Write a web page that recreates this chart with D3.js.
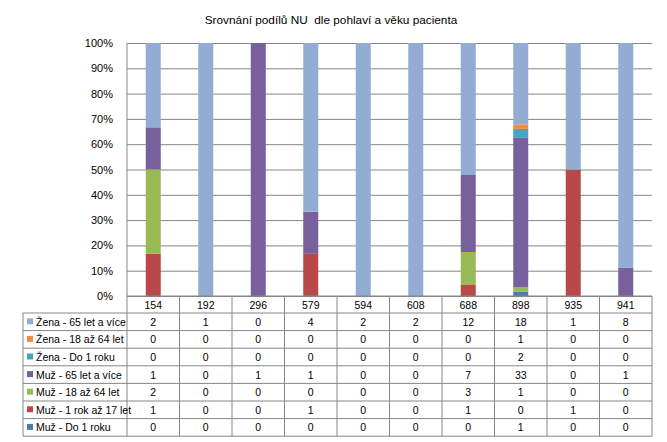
<!DOCTYPE html>
<html>
<head>
<meta charset="utf-8">
<script src="https://cdn.jsdelivr.net/npm/d3@7/dist/d3.min.js"></script>
<style>
  body { margin: 0; background: #fff; }
  svg { display: block; font-family: "Liberation Sans", Arial, sans-serif; }
</style>
</head>
<body>
<svg id="chart" width="667" height="442"></svg>
<script>
// data
const categories = ["154", "192", "296", "579", "594", "608", "688", "898", "935", "941"];
const seriesNames = [
  "Žena - 65 let a více",
  "Žena - 18 až 64 let",
  "Žena - Do 1 roku",
  "Muž - 65 let a více",
  "Muž - 18 až 64 let",
  "Muž - 1 rok až 17 let",
  "Muž - Do 1 roku"
];
const zena65 = [2, 1, 0, 4, 2, 2, 12, 18, 1, 8];
const zena18 = [0, 0, 0, 0, 0, 0, 0, 1, 0, 0];
const zenaDo1 = [0, 0, 0, 0, 0, 0, 0, 2, 0, 0];
const muz65 = [1, 0, 1, 1, 0, 0, 7, 33, 0, 1];
const muz18 = [2, 0, 0, 0, 0, 0, 3, 1, 0, 0];
const muz1 = [1, 0, 0, 1, 0, 0, 1, 0, 1, 0];
const muzDo1 = [0, 0, 0, 0, 0, 0, 0, 1, 0, 0];
const seriesValues = [zena65, zena18, zenaDo1, muz65, muz18, muz1, muzDo1];
const colors = ["#93acd4", "#f08d3f", "#4aa3bd", "#77609c", "#98b954", "#b8484a", "#4a7bb5"];
const yTicks = [0, 0.1, 0.2, 0.3, 0.4, 0.5, 0.6, 0.7, 0.8, 0.9, 1];

const svg = d3.select("#chart");
const margin = { top: 43, left: 127, right: 15, plotBottom: 296 };
const width = 667;
const legendLeft = 23;
const rowH = 17.6;
const headerH = 17;
const lineColor = "#868686";

// title
svg.append("text")
  .attr("x", 331).attr("y", 24)
  .attr("text-anchor", "middle")
  .attr("font-size", "11.8px")
  .style("white-space", "pre")
  .text("Srovnání podílů NU  dle pohlaví a věku pacienta");

const x = d3.scaleBand()
  .domain(categories)
  .range([margin.left, width - margin.right]);

const y = d3.scaleLinear()
  .domain([0, 1])
  .range([margin.plotBottom, margin.top]);

// grid + y labels
const yAxis = (g) => g
  .attr("transform", `translate(${margin.left},0)`)
  .call(d3.axisLeft(y).tickValues(yTicks).tickFormat(d3.format(".0%")).tickSize(-(width - margin.right - margin.left)).tickPadding(14))
  .call((g) => g.select(".domain").remove())
  .call((g) => g.selectAll("line").attr("stroke", lineColor))
  .call((g) => g.selectAll("text").attr("font-size", "11px").attr("fill", "#000").attr("font-family", "Liberation Sans, Arial, sans-serif"));
svg.append("g").call(yAxis);

// stack: bottom is last row of the table
const table = categories.map((c, i) => {
  const o = { cat: c };
  seriesNames.forEach((s, j) => { o[s] = seriesValues[j][i]; });
  return o;
});
const stackKeys = seriesNames.slice().reverse();
const stacked = d3.stack().keys(stackKeys).offset(d3.stackOffsetExpand)(table);

const barW = 15;
svg.append("g")
  .selectAll("g")
  .data(stacked)
  .enter()
  .append("g")
  .attr("fill", (d) => colors[seriesNames.indexOf(d.key)])
  .selectAll("rect")
  .data((d) => d)
  .enter()
  .append("rect")
  .attr("x", (d) => x(d.data.cat) + x.bandwidth() / 2 - barW / 2)
  .attr("width", barW)
  .attr("y", (d) => y(d[1]))
  .attr("height", (d) => Math.max(0, y(d[0]) - y(d[1])));

// vertical axis line
svg.append("line")
  .attr("x1", margin.left).attr("x2", margin.left)
  .attr("y1", margin.top).attr("y2", margin.plotBottom + headerH + rowH * seriesNames.length)
  .attr("stroke", lineColor);

// data table
const tableTop = margin.plotBottom;
const rowsTop = tableTop + headerH;
const tableBottom = rowsTop + rowH * seriesNames.length;
const tg = svg.append("g").attr("stroke", lineColor).attr("fill", "none");

// horizontal lines
tg.append("line").attr("x1", margin.left).attr("x2", width - margin.right).attr("y1", tableTop).attr("y2", tableTop);
d3.range(seriesNames.length + 1).forEach((i) => {
  const yy = rowsTop + i * rowH;
  tg.append("line").attr("x1", legendLeft).attr("x2", width - margin.right).attr("y1", yy).attr("y2", yy);
});
// vertical lines
tg.append("line").attr("x1", legendLeft).attr("x2", legendLeft).attr("y1", rowsTop).attr("y2", tableBottom);
categories.forEach((c) => {
  const xx = x(c) + x.bandwidth();
  tg.append("line").attr("x1", xx).attr("x2", xx).attr("y1", tableTop).attr("y2", tableBottom);
});

// header labels
svg.append("g")
  .selectAll("text")
  .data(categories)
  .enter()
  .append("text")
  .attr("x", (d) => x(d) + x.bandwidth() / 2)
  .attr("y", tableTop + headerH / 2 + 4)
  .attr("text-anchor", "middle")
  .attr("font-size", "10.5px")
  .text((d) => d);

// rows
seriesNames.forEach((s, j) => {
  const cy = rowsTop + j * rowH + rowH / 2;
  svg.append("rect")
    .attr("x", legendLeft + 4).attr("y", cy - 3.5)
    .attr("width", 6).attr("height", 6)
    .attr("fill", colors[j]);
  svg.append("text")
    .attr("x", legendLeft + 13).attr("y", cy + 4)
    .attr("font-size", "10.5px")
    .text(s);
  svg.append("g")
    .selectAll("text")
    .data(seriesValues[j])
    .enter()
    .append("text")
    .attr("x", (d, i) => x(categories[i]) + x.bandwidth() / 2)
    .attr("y", cy + 4)
    .attr("text-anchor", "middle")
    .attr("font-size", "10.5px")
    .text((d) => d);
});
</script>
</body>
</html>
